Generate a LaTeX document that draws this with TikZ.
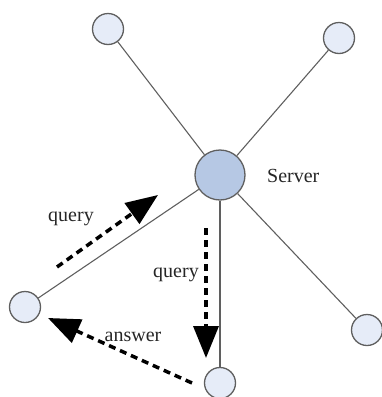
\documentclass[tikz,border=0pt]{standalone}
\usepackage{fontspec}
\setmainfont{Liberation Serif}
\usetikzlibrary{arrows.meta}
\definecolor{srvfill}{RGB}{182,200,228}
\definecolor{nodefill}{RGB}{230,236,248}
\definecolor{edgegray}{RGB}{95,95,95}
\tikzset{
  peer/.style={circle,draw=edgegray,line width=1.3pt,fill=nodefill,minimum size=31pt,inner sep=0pt},
  srv/.style={circle,draw=edgegray,line width=1.3pt,fill=srvfill,minimum size=50pt,inner sep=0pt},
  link/.style={draw=edgegray,line width=1.1pt},
  msg/.style={line width=3.5pt,dash pattern=on 7pt off 5pt,-{Triangle[length=32pt,width=25pt]}},
  lbl/.style={font=\fontsize{20}{24}\selectfont,inner sep=1pt,text=black!85}
}
\begin{document}
\begin{tikzpicture}[x=1pt,y=-1pt]
\useasboundingbox (0,0) rectangle (382,397);
\node[srv] (s) at (220,175) {};
\node[peer] (tl) at (108,29) {};
\node[peer] (tr) at (339,38) {};
\node[peer] (l) at (25,307) {};
\node[peer] (b) at (220,383) {};
\node[peer] (r) at (367,330) {};
\draw[link] (s) -- (tl);
\draw[link] (s) -- (tr);
\draw[link] (s) -- (l);
\draw[link] (s) -- (b);
\draw[link] (s) -- (r);
\node[lbl,anchor=west] (sl) at (266,176) {Server};
\coordinate (q1a) at (57,267);
\coordinate (q1b) at (158,195);
\draw[msg] (q1a) -- (q1b);
\node[lbl] (q1l) at (71,219) {query};
\coordinate (q2a) at (206,228);
\coordinate (q2b) at (206,358);
\draw[msg] (q2a) -- (q2b);
\node[lbl] (q2l) at (176,275) {query};
\coordinate (ana) at (192,383);
\coordinate (anb) at (48,318);
\draw[msg] (ana) -- (anb);
\node[lbl] (anl) at (133,337) {answer};
\end{tikzpicture}
\end{document}
